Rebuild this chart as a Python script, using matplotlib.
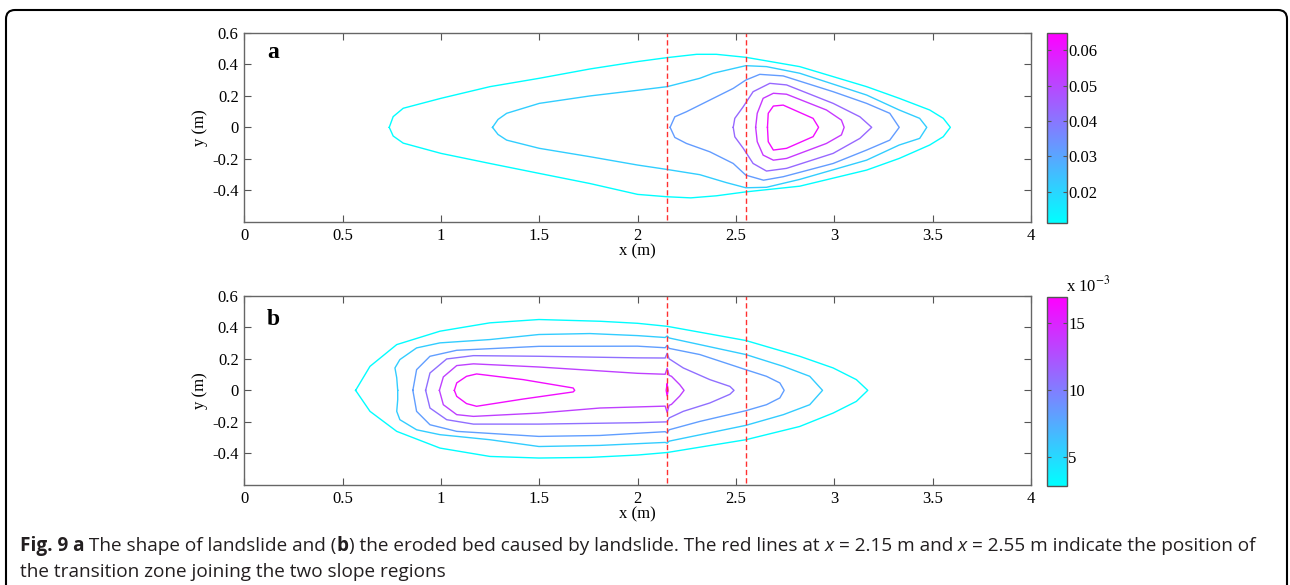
import matplotlib
matplotlib.use("Agg")
import matplotlib.pyplot as plt
import matplotlib.patches as mpatches
import matplotlib.ticker as mticker
from matplotlib.transforms import IdentityTransform
from matplotlib.colors import Normalize

plt.rcParams["font.family"] = ["Liberation Serif", "DejaVu Serif"]
plt.rcParams["mathtext.fontset"] = "stix"

# ---- data ----
x_ticks = [0, 0.5, 1, 1.5, 2, 2.5, 3, 3.5, 4]
y_ticks = [-0.4, -0.2, 0, 0.2, 0.4, 0.6]
transition_x = [2.15, 2.55]

# panel a: landslide thickness contours (closed loops, left nose -> upper -> right nose -> lower)
levels_a = [0.0115, 0.0215, 0.032, 0.043, 0.053, 0.062]
cbar_range_a = (0.0112, 0.0649)
cbar_ticks_a = [0.02, 0.03, 0.04, 0.05, 0.06]

a_c1 = [(0.737, 0), (0.757, 0.068), (0.808, 0.121), (1.0, 0.184), (1.249, 0.258), (1.5, 0.311),
        (1.757, 0.37), (2.0, 0.417), (2.15, 0.442), (2.30, 0.463), (2.40, 0.463), (2.55, 0.444),
        (2.824, 0.385), (3.164, 0.258), (3.33, 0.184), (3.485, 0.110), (3.554, 0.057), (3.59, 0),
        (3.554, -0.059), (3.485, -0.112), (3.33, -0.197), (3.164, -0.271), (2.824, -0.373),
        (2.55, -0.409), (2.40, -0.434), (2.27, -0.447), (2.15, -0.44), (2.0, -0.425),
        (1.757, -0.356), (1.5, -0.292), (1.249, -0.229), (1.0, -0.165), (0.808, -0.10),
        (0.757, -0.055), (0.737, 0)]
a_c2 = [(1.262, 0), (1.29, 0.05), (1.334, 0.089), (1.5, 0.152), (1.757, 0.199), (2.0, 0.235),
        (2.15, 0.258), (2.316, 0.311), (2.384, 0.343), (2.55, 0.391), (2.655, 0.385),
        (2.824, 0.343), (3.164, 0.205), (3.33, 0.11), (3.434, 0.057), (3.47, 0), (3.434, -0.07),
        (3.33, -0.112), (3.164, -0.208), (2.824, -0.33), (2.655, -0.38), (2.55, -0.383),
        (2.45, -0.35), (2.316, -0.30), (2.15, -0.267), (2.0, -0.239), (1.757, -0.186),
        (1.5, -0.133), (1.334, -0.081), (1.29, -0.045), (1.262, 0)]
a_c3 = [(2.165, 0), (2.189, 0.067), (2.248, 0.099), (2.367, 0.173), (2.486, 0.247), (2.55, 0.30),
        (2.621, 0.336), (2.74, 0.326), (2.994, 0.226), (3.164, 0.152), (3.282, 0.089), (3.33, 0),
        (3.282, -0.081), (3.164, -0.144), (2.994, -0.229), (2.74, -0.313), (2.64, -0.335),
        (2.55, -0.303), (2.486, -0.229), (2.367, -0.155), (2.248, -0.102), (2.189, -0.064),
        (2.165, 0)]
a_c4 = [(2.486, 0), (2.494, 0.057), (2.537, 0.131), (2.587, 0.226), (2.672, 0.279), (2.757, 0.269),
        (2.994, 0.152), (3.13, 0.067), (3.19, 0), (3.13, -0.07), (2.994, -0.165), (2.757, -0.26),
        (2.655, -0.277), (2.587, -0.229), (2.537, -0.133), (2.494, -0.06), (2.486, 0)]
a_c5 = [(2.60, 0), (2.608, 0.089), (2.638, 0.184), (2.69, 0.216), (2.757, 0.21), (2.96, 0.11),
        (3.036, 0.046), (3.05, 0), (3.036, -0.048), (2.96, -0.102), (2.757, -0.197),
        (2.69, -0.208), (2.638, -0.176), (2.608, -0.091), (2.60, 0)]
a_c6 = [(2.66, 0), (2.664, 0.089), (2.69, 0.135), (2.74, 0.141), (2.892, 0.057), (2.92, 0),
        (2.892, -0.059), (2.757, -0.133), (2.69, -0.144), (2.664, -0.091), (2.66, 0)]

# panel b: eroded bed depth contours
levels_b = [0.0030, 0.0056, 0.0082, 0.0108, 0.0134, 0.0162, 0.0162]
cbar_range_b = (0.00284, 0.01694)
cbar_ticks_b = [0.005, 0.010, 0.015]

b_c1 = [(0.566, 0), (0.639, 0.152), (0.775, 0.29), (0.995, 0.375), (1.249, 0.428), (1.498, 0.449),
        (1.808, 0.438), (2.0, 0.425), (2.15, 0.406), (2.55, 0.316), (2.824, 0.216), (2.994, 0.142),
        (3.112, 0.068), (3.17, 0), (3.112, -0.07), (2.994, -0.144), (2.824, -0.229),
        (2.55, -0.313), (2.15, -0.394), (2.0, -0.41), (1.757, -0.425), (1.498, -0.429),
        (1.249, -0.419), (0.995, -0.366), (0.775, -0.26), (0.639, -0.133), (0.566, 0)]
b_c2 = [(0.78, 0), (0.775, 0.08), (0.766, 0.142), (0.791, 0.195), (0.876, 0.269), (0.995, 0.301),
        (1.249, 0.322), (1.498, 0.354), (1.757, 0.36), (2.0, 0.347), (2.14, 0.335), (2.15, 0.345),
        (2.16, 0.332), (2.55, 0.227), (2.741, 0.152), (2.875, 0.089), (2.94, 0), (2.875, -0.091),
        (2.741, -0.154), (2.55, -0.222), (2.16, -0.322), (2.15, -0.335), (2.14, -0.33),
        (1.808, -0.349), (1.498, -0.356), (1.249, -0.313), (0.995, -0.281), (0.876, -0.25),
        (0.791, -0.186), (0.775, -0.133), (0.78, -0.06), (0.78, 0)]
b_c3 = [(0.857, 0), (0.876, 0.131), (0.944, 0.216), (1.08, 0.254), (1.498, 0.279), (2.0, 0.28),
        (2.14, 0.27), (2.15, 0.285), (2.16, 0.266), (2.316, 0.227), (2.55, 0.131), (2.655, 0.089),
        (2.723, 0.047), (2.745, 0), (2.723, -0.048), (2.655, -0.091), (2.55, -0.129),
        (2.316, -0.197), (2.16, -0.25), (2.15, -0.27), (2.14, -0.262), (1.808, -0.286),
        (1.498, -0.292), (1.08, -0.26), (0.944, -0.218), (0.876, -0.133), (0.857, 0)]
b_c4 = [(0.922, 0), (0.944, 0.11), (1.029, 0.199), (1.165, 0.22), (1.498, 0.216), (2.0, 0.206),
        (2.14, 0.205), (2.15, 0.235), (2.16, 0.2), (2.232, 0.142), (2.367, 0.068), (2.469, 0.025),
        (2.49, 0), (2.469, -0.025), (2.367, -0.08), (2.232, -0.133), (2.16, -0.175),
        (2.15, -0.2), (2.14, -0.2), (2.0, -0.205), (1.498, -0.214), (1.165, -0.214),
        (1.029, -0.186), (0.944, -0.112), (0.922, 0)]
b_c5 = [(0.992, 0), (1.012, 0.085), (1.08, 0.157), (1.165, 0.168), (1.498, 0.148), (2.0, 0.108),
        (2.14, 0.102), (2.15, 0.14), (2.16, 0.095), (2.172, 0.089), (2.214, 0.036), (2.236, 0),
        (2.214, -0.036), (2.172, -0.089), (2.16, -0.095), (2.15, -0.14), (2.14, -0.10),
        (1.808, -0.112), (1.498, -0.144), (1.165, -0.165), (1.08, -0.154), (1.012, -0.091),
        (0.992, 0)]
b_c6 = [(1.068, 0), (1.08, 0.047), (1.13, 0.089), (1.181, 0.104), (1.418, 0.068), (1.672, 0.015),
        (1.68, 0), (1.672, -0.01), (1.418, -0.055), (1.181, -0.101), (1.13, -0.084),
        (1.08, -0.038), (1.068, 0)]
b_c7 = [(2.15, 0.04), (2.155, 0), (2.15, -0.035), (2.145, 0), (2.15, 0.04)]

loops_a = [a_c1, a_c2, a_c3, a_c4, a_c5, a_c6]
loops_b = [b_c1, b_c2, b_c3, b_c4, b_c5, b_c6, b_c7]

caption_1 = [("Fig. 9 a", "bold", "normal"), (" The shape of landslide and (", "normal", "normal"),
             ("b", "bold", "normal"),
             (") the eroded bed caused by landslide. The red lines at ", "normal", "normal"),
             ("x", "normal", "italic"), (" = 2.15 m and ", "normal", "normal"),
             ("x", "normal", "italic"),
             (" = 2.55 m indicate the position of", "normal", "normal")]
caption_2 = "the transition zone joining the two slope regions"

# ---- figure ----
W, H = 1290, 585
fig = plt.figure(figsize=(W / 100, H / 100), dpi=100)
cmap = plt.get_cmap("cool")
TICK_FS = 12


def px_rect(left, top, right, bottom):
    return [left / W, 1 - bottom / H, (right - left) / W, (bottom - top) / H]


def style_axes(ax):
    ax.set_xlim(0, 4)
    ax.set_ylim(-0.6, 0.6)
    ax.set_xticks(x_ticks)
    ax.set_yticks(y_ticks)
    ax.xaxis.set_major_formatter(mticker.FormatStrFormatter("%g"))
    ax.yaxis.set_major_formatter(mticker.FormatStrFormatter("%g"))
    ax.tick_params(direction="in", length=5, width=0.8, color="#555555",
                   top=True, right=True, labelsize=TICK_FS, pad=4)
    for s in ax.spines.values():
        s.set_color("#666666")
        s.set_linewidth(1.0)
    ax.set_xlabel("x (m)", fontsize=TICK_FS, labelpad=0)
    ax.set_ylabel("y (m)", fontsize=TICK_FS, labelpad=3)


def draw_panel(ax_rect, cb_rect, loops, levels, crange, cticks, letter, cfmt):
    ax = fig.add_axes(ax_rect)
    norm = Normalize(*crange)
    for loop, lev in zip(loops, levels):
        xs = [p[0] for p in loop]
        ys = [p[1] for p in loop]
        ax.plot(xs, ys, color=cmap(norm(lev)), lw=1.0)
    for xv in transition_x:
        ax.axvline(xv, ymin=0.012, ymax=1, color="#ff3030", lw=1.0,
                   linestyle=(0, (3.8, 2.2)))
    style_axes(ax)
    ax.text(0.115, 0.475 if letter == "a" else 0.45, letter, fontsize=17,
            fontweight="bold", va="center")
    cax = fig.add_axes(cb_rect)
    sm = plt.cm.ScalarMappable(norm=norm, cmap=cmap)
    cb = fig.colorbar(sm, cax=cax, ticks=cticks, format=cfmt)
    cb.outline.set_edgecolor("#555555")
    cb.outline.set_linewidth(1.0)
    cax.tick_params(direction="in", length=3, width=0.8, color="#555555",
                    left=True, right=True, labelsize=TICK_FS, pad=1)
    return ax


draw_panel(px_rect(244.3, 32.7, 1031, 222), px_rect(1046.7, 32.7, 1066.7, 223),
           loops_a, levels_a, cbar_range_a, cbar_ticks_a, "a",
           mticker.FormatStrFormatter("%.2f"))
draw_panel(px_rect(244.3, 295.7, 1031, 485), px_rect(1046.7, 296.7, 1066.7, 485.7),
           loops_b, levels_b, cbar_range_b, cbar_ticks_b, "b",
           mticker.FuncFormatter(lambda v, p: "%g" % round(v * 1000, 6)))
fig.text(1066 / W, 1 - 291 / H, r"x 10$^{-3}$", fontsize=TICK_FS, ha="left", va="baseline")

# rounded frame around the figure
frame = mpatches.FancyBboxPatch((6, -20), 1281, H - 10 + 20,
                                boxstyle="round,pad=0,rounding_size=9",
                                transform=IdentityTransform(), fill=False,
                                edgecolor="black", lw=1.5)
fig.add_artist(frame)

# caption with mixed weights
renderer = fig.canvas.get_renderer()
cap_font = ["Open Sans", "DejaVu Sans"]
cap_size = 13.7
xpos = 20
for piece, weight, style in caption_1:
    t = fig.text(xpos / W, 1 - 551 / H, piece, fontsize=cap_size, fontweight=weight,
                 fontstyle=style, family=cap_font, color="#231f20", va="baseline")
    bb = t.get_window_extent(renderer)
    xpos += bb.width
fig.text(20 / W, 1 - 577 / H, caption_2, fontsize=cap_size, family=cap_font,
         color="#231f20", va="baseline")

fig.savefig("out.png", dpi=100)
